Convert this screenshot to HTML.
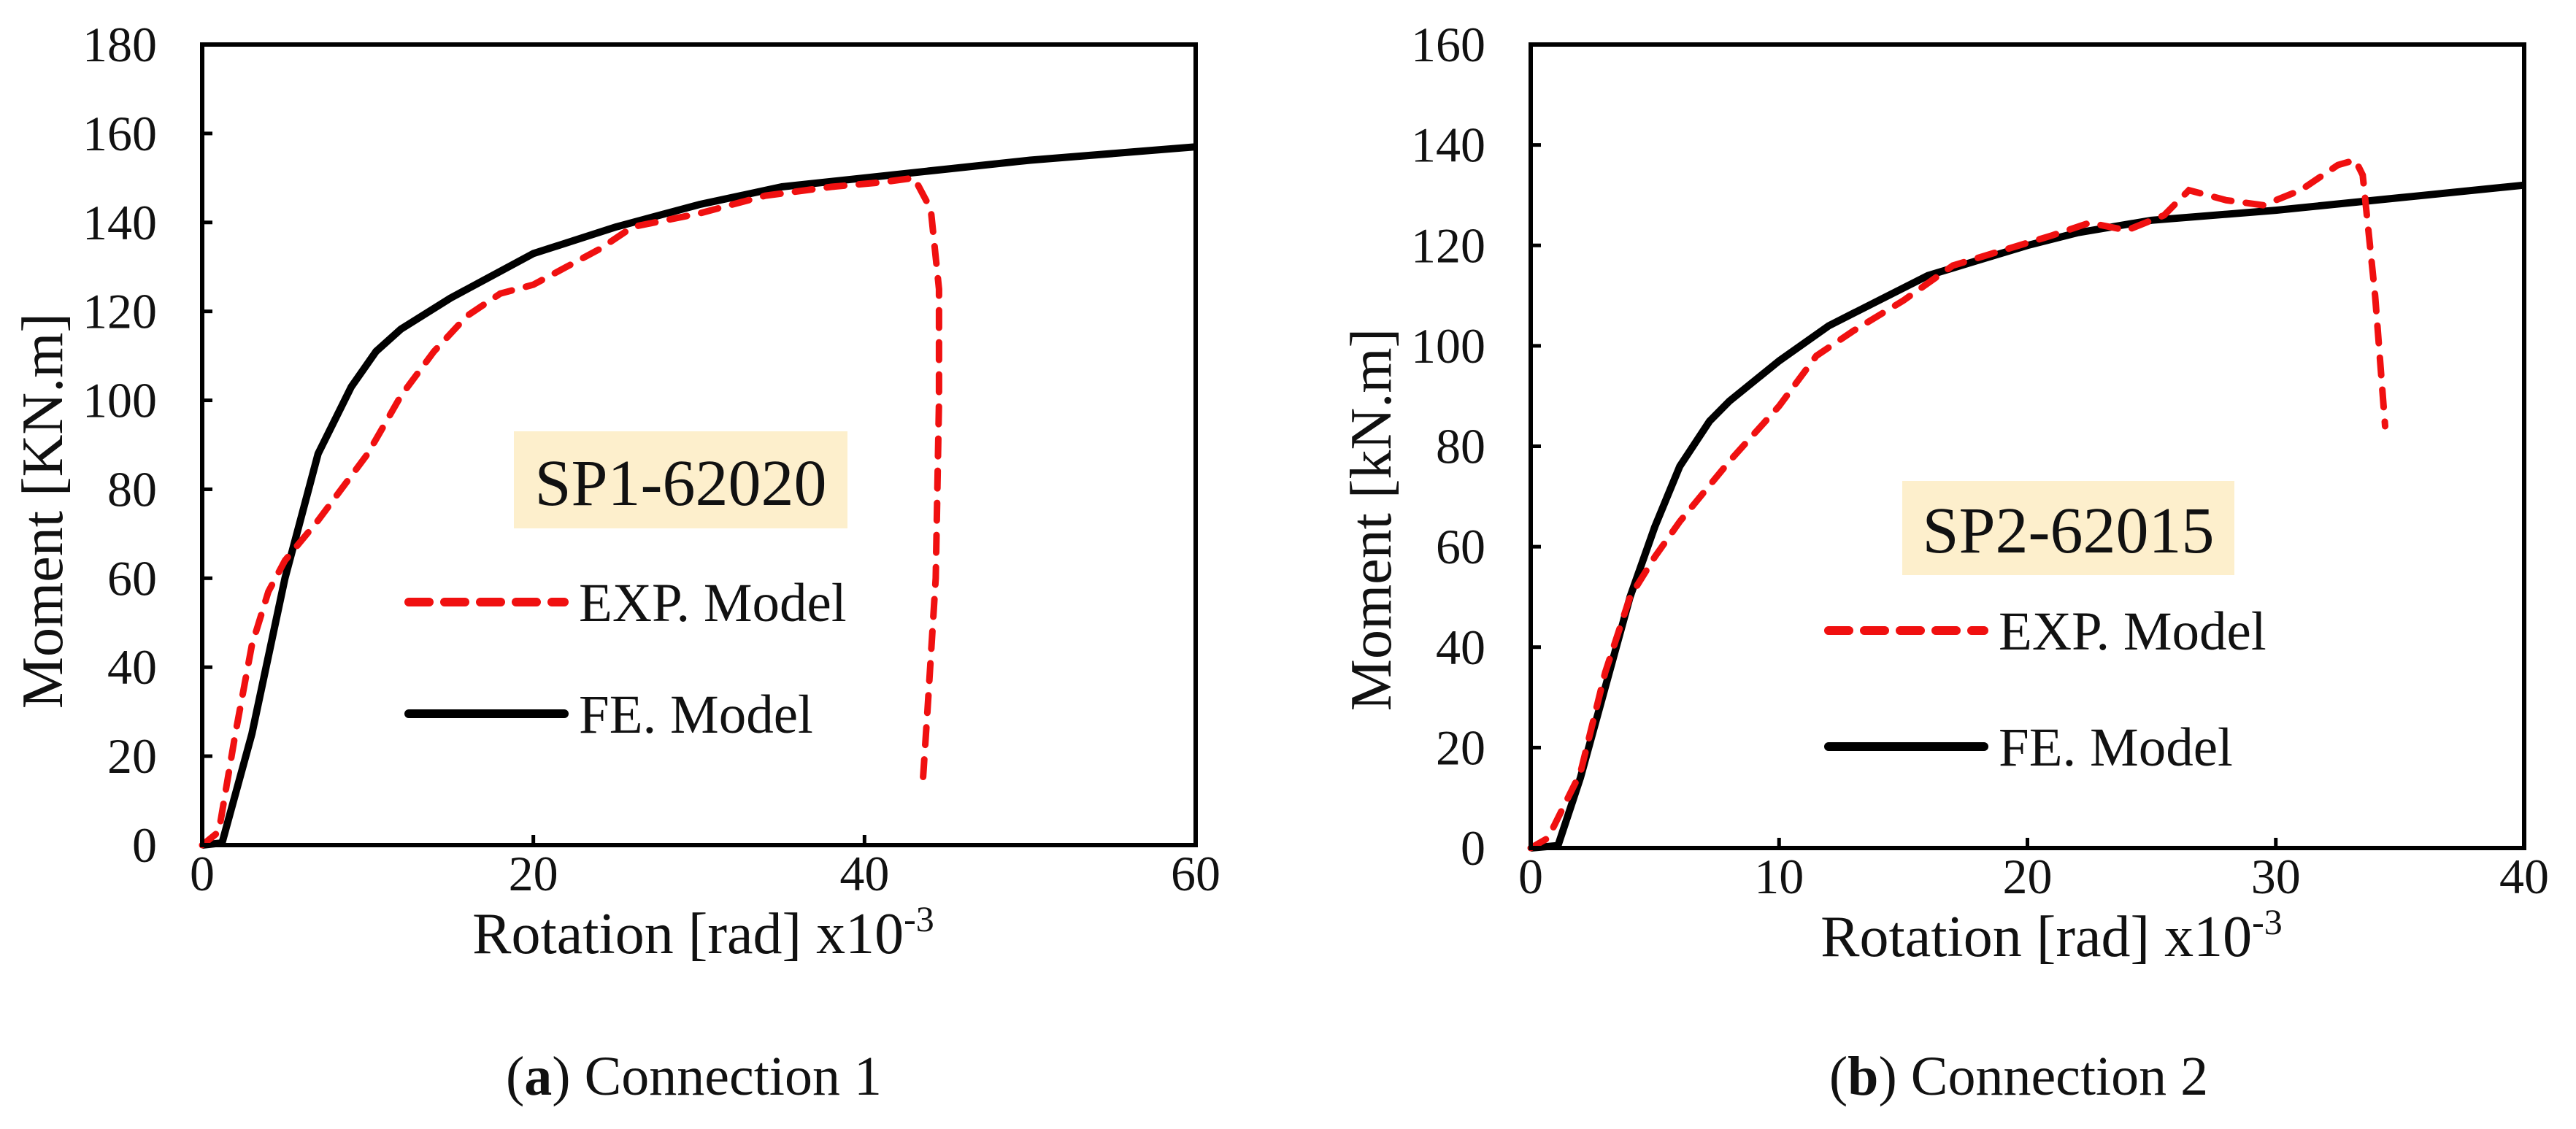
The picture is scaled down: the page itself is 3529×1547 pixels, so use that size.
<!DOCTYPE html>
<html><head><meta charset="utf-8"><style>
html,body{margin:0;padding:0;background:#fff;}
svg{display:block;font-family:"Liberation Serif",serif;}
</style></head><body>
<svg id="fig" width="3529" height="1547" viewBox="0 0 3529 1547"></svg>
<script>
const aTicksX=[0,20,40,60];
const aTicksY=[0,20,40,60,80,100,120,140,160,180];
const aFeX=[0,1.2,3,5,7,9,10.5,12,15,20,25,30,35,40,45,50,60];
const aFeY=[0,0.5,25,60,88,103,111,116,123,133,139,144,148,150,152,154,157];
const aExpX=[0,1,2,3,4,5,7,10,12,14,16,18,20,22,24,26,30,34,38,41,43,44,44.5,44.5,44.3,43.8,43.5];
const aExpY=[0,3,25,45,57,64,73,88,101,111,119,124,126,130,134,139,142,146,148,149,150,143,125,100,60,30,13];
const bTicksX=[0,10,20,30,40];
const bTicksY=[0,20,40,60,80,100,120,140,160];
const bFeX=[0,1.1,2,3,4,5,6,7.2,8,10,12,14,16,18,20,22,25,30,35,40];
const bFeY=[0,0.5,14,32,50,64,76,85,89,97,104,109,114,117,120,122.5,125,127,129.5,132];
const bExpX=[0,0.7,2,3,4,5,6,8,10,11.5,13,15,17,19,21,22.5,24,25.5,26.5,28,29.5,31,32.5,33.2,33.5,34,34.4];
const bExpY=[0,2,15,35,50,58,65,77,88,98,103,109,116,119,122,124.5,123,126,131,129,128,131,136,137,134,110,84];

const NS="http://www.w3.org/2000/svg";
const svg=document.getElementById('fig');
function mk(tag,attrs,parent,text){const e=document.createElementNS(NS,tag);for(const k in attrs)e.setAttribute(k,attrs[k]);if(text!==undefined)e.textContent=text;(parent||svg).appendChild(e);return e;}

function chart(o){
  const g=mk('g',{});
  
  
  const sx=v=>o.L+(v-o.xmin)/(o.xmax-o.xmin)*(o.R-o.L);
  const sy=v=>o.B-(v-o.ymin)/(o.ymax-o.ymin)*(o.B-o.T);
  o.tx.forEach(v=>{
    const t=mk('line',{x1:sx(v),x2:sx(v),y1:o.B,y2:o.B-14,stroke:'#000','stroke-width':5},g);
    
    
    const l=mk('text',{x:sx(v),y:o.B+62,'font-size':68,'text-anchor':'middle',fill:'#111'},g,String(v));
    
    
  });
  o.ty.forEach(v=>{
    const t=mk('line',{x1:o.L,x2:o.L+14,y1:sy(v),y2:sy(v),stroke:'#000','stroke-width':5},g);
    
    
    const l=mk('text',{x:o.L-62,y:sy(v)+23,'font-size':68,'text-anchor':'end',fill:'#111'},g,String(v));
    
    
  });
  const bx=mk('rect',{x:o.box[0],y:o.box[1],width:o.box[2],height:o.box[3],fill:'#fdefcc'},g);
  
  
  const bt=mk('text',{x:o.box[0]+o.box[2]/2,y:o.box[4],'font-size':90,'text-anchor':'middle',fill:'#111'},g,o.spec);
  
  
  const pts=(xs,ys)=>xs.map((x,i)=>sx(x).toFixed(1)+','+sy(ys[i]).toFixed(1)).join(' ');
  const fe=mk('polyline',{points:pts(o.feX,o.feY),fill:'none',stroke:'#000','stroke-width':10,'stroke-linejoin':'round'},g);
  
  
  const ex=mk('polyline',{points:pts(o.exX,o.exY),fill:'none',stroke:'#f01010','stroke-width':9,'stroke-linecap':'round','stroke-dasharray':'24 20'},g);
  
  
  const fr=mk('rect',{x:o.L,y:o.T,width:o.R-o.L,height:o.B-o.T,fill:'none',stroke:'#000','stroke-width':6},g);
  
  
  const le1=mk('line',{x1:o.leg[0]+5,x2:o.leg[0]+218,y1:o.leg[1],y2:o.leg[1],stroke:'#f01010','stroke-width':12,'stroke-linecap':'round','stroke-dasharray':'28 21'},g);
  
  
  const lt1=mk('text',{x:o.leg[0]+238,y:o.leg[1]+26,'font-size':75,fill:'#111'},g,'EXP. Model');
  
  
  const le2=mk('line',{x1:o.leg[0]+5,x2:o.leg[0]+218,y1:o.leg[2],y2:o.leg[2],stroke:'#000','stroke-width':12,'stroke-linecap':'round'},g);
  
  
  const lt2=mk('text',{x:o.leg[0]+238,y:o.leg[2]+26,'font-size':75,fill:'#111'},g,'FE. Model');
  
  
  const cx=(o.L+o.R)/2;
  const xt=mk('text',{x:cx+o.xto,y:o.B+148,'font-size':80,'text-anchor':'middle',fill:'#111'},g);
  
  
  xt.appendChild(document.createTextNode('Rotation [rad] x10'));
  mk('tspan',{dy:-30,'font-size':50},xt,'-3');
  const yx=o.L-192, yc=o.yc;
  const yt=mk('text',{x:yx,y:yc,'font-size':80,'text-anchor':'middle',fill:'#111',transform:`rotate(-90 ${yx} ${yc})`},g,o.ytitle);
  
  
  const cap=mk('text',{x:cx+o.capo,y:1500,'font-size':76,'text-anchor':'middle',fill:'#111'},g);
  
  
  cap.appendChild(document.createTextNode('('));
  mk('tspan',{'font-weight':'bold'},cap,o.letter);
  cap.appendChild(document.createTextNode(') '+o.caption));
}
chart({name:'chart-connection-1',L:277,R:1638,T:61,B:1158,xmin:0,xmax:60,ymin:0,ymax:180,tx:aTicksX,ty:aTicksY,
  feX:aFeX,feY:aFeY,exX:aExpX,exY:aExpY,box:[704,591,457,133,692],spec:'SP1-62020',leg:[555,825,978],
  ytitle:'Moment [KN.m]',letter:'a',caption:'Connection 1',xto:6,capo:-7,yc:700});
chart({name:'chart-connection-2',L:2097,R:3458,T:61,B:1162,xmin:0,xmax:40,ymin:0,ymax:160,tx:bTicksX,ty:bTicksY,
  feX:bFeX,feY:bFeY,exX:bExpX,exY:bExpY,box:[2606,659,455,129,757],spec:'SP2-62015',leg:[2500,864,1023],
  ytitle:'Moment [kN.m]',letter:'b',caption:'Connection 2',xto:33,capo:-12,yc:712});
</script>
</body></html>
